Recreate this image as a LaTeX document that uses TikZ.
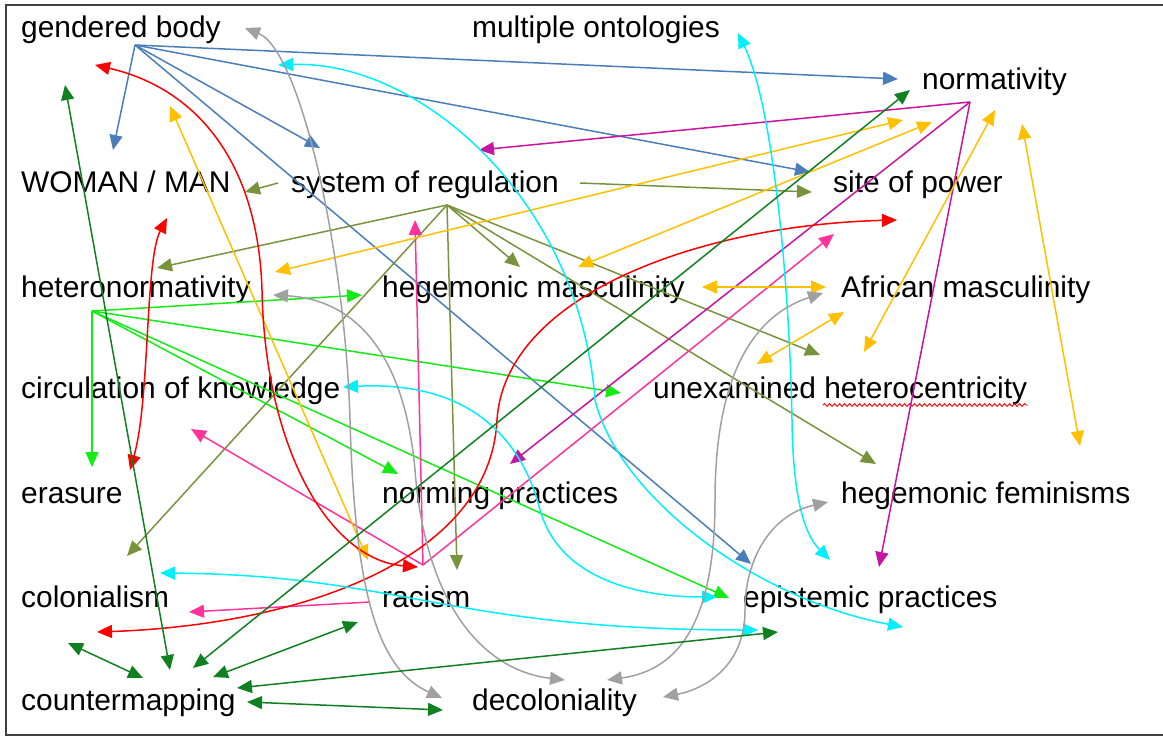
\documentclass[tikz,border=0pt]{standalone}
\usepackage{fontspec}
\setmainfont{Liberation Sans}
\usetikzlibrary{arrows.meta, decorations.pathmorphing}
\definecolor{linkblue}{RGB}{74,126,187}
\definecolor{linkolive}{RGB}{119,147,60}
\definecolor{linklime}{RGB}{20,235,20}
\definecolor{linkmagenta}{RGB}{200,20,160}
\definecolor{linkpink}{RGB}{255,51,153}
\definecolor{linkyellow}{RGB}{255,192,0}
\definecolor{linkred}{RGB}{255,0,0}
\definecolor{linkcyan}{RGB}{0,240,255}
\definecolor{linkgray}{RGB}{160,160,160}
\definecolor{linkgreen}{RGB}{16,128,32}

\tikzset{
  concept/.style={anchor=base west, inner sep=0pt, font=\fontsize{29.9}{36}\selectfont},
  link/.style={line width=1.5pt, -{Triangle[length=15pt,width=13pt]}},
  twoway/.style={line width=1.5pt, {Triangle[length=15pt,width=13pt]}-{Triangle[length=15pt,width=13pt]}},
}

\begin{document}
\begin{tikzpicture}[x=1pt, y=-1pt]
\useasboundingbox (0,0) rectangle (1163,736);
\draw[line width=1.5pt, black!75] (1163,5) -- (6,5) -- (6,735) -- (1163,735);

% concepts
\node[concept] (gendbody)   at (21,37)   {gendered body};
\node[concept] (multonto)   at (472,37)  {multiple ontologies};
\node[concept] (normat)     at (922,89)  {normativity};
\node[concept] (womanman)   at (21,192)  {WOMAN / MAN};
\node[concept] (sysreg)     at (291,192) {system of regulation};
\node[concept] (sitepower)  at (833,192) {site of power};
\node[concept] (heteronorm) at (21,297)  {heteronormativity};
\node[concept] (hegmasc)    at (382,297) {hegemonic masculinity};
\node[concept] (afrmasc)    at (841,297) {African masculinity};
\node[concept] (circknow)   at (21,398)  {circulation of knowledge};
\node[concept] (unexam)     at (653,398) {unexamined heterocentricity};
\node[concept] (erasure)    at (21,503)  {erasure};
\node[concept] (normprac)   at (382,503) {norming practices};
\node[concept] (hegfem)     at (841,503) {hegemonic feminisms};
\node[concept] (colon)      at (21,607)  {colonialism};
\node[concept] (racism)     at (382,607) {racism};
\node[concept] (epiprac)    at (743,607) {epistemic practices};
\node[concept] (countermap) at (21,710)  {countermapping};
\node[concept] (decol)      at (472,710) {decoloniality};

% spell-check squiggle
\draw[linkred, line width=0.9pt, decorate, decoration={snake, amplitude=1.4pt, segment length=5pt}]
  (823,405) -- (1028,405);

% hubs and loose ends
\coordinate (hubGB) at (135,45);
\coordinate (hubSR) at (447,205);
\coordinate (hubHN) at (92,311);
\coordinate (hubNO) at (970,102);
\coordinate (hubRA) at (423,565);

\coordinate (bWM) at (113,150);  \coordinate (bSR) at (320,148);
\coordinate (bNO) at (898,79);   \coordinate (bSP) at (810,172);
\coordinate (bEP) at (751,564);

\coordinate (oHN) at (157,268);  \coordinate (oHM) at (520,267);
\coordinate (oRA) at (457,570);  \coordinate (oCO) at (127,556);
\coordinate (oUH) at (820,355);  \coordinate (oHF) at (876,464);
\coordinate (oSRl) at (278,183); \coordinate (oWM) at (245,192);
\coordinate (oSRr) at (580,183); \coordinate (oSP) at (812,192);

\coordinate (lER) at (92,467);   \coordinate (lHM) at (362,295);
\coordinate (lUH) at (621,393);  \coordinate (lNP) at (398,474);
\coordinate (lEP) at (729,598);

\coordinate (mSR) at (479,150);  \coordinate (mNP) at (510,464);
\coordinate (mEP) at (879,567);

\coordinate (pUp) at (415,220);  \coordinate (pSP) at (834,234);
\coordinate (pCK) at (191,429);  \coordinate (pRA) at (370,602);
\coordinate (pCO) at (189,612);

% blue
\draw[link, linkblue] (hubGB) -- (bWM);
\draw[link, linkblue] (hubGB) -- (bSR);
\draw[link, linkblue] (hubGB) -- (bNO);
\draw[link, linkblue] (hubGB) -- (bSP);
\draw[link, linkblue] (hubGB) -- (bEP);

% olive
\draw[link, linkolive] (hubSR) -- (oHN);
\draw[link, linkolive] (hubSR) -- (oHM);
\draw[link, linkolive] (hubSR) -- (oRA);
\draw[link, linkolive] (hubSR) -- (oCO);
\draw[link, linkolive] (hubSR) -- (oUH);
\draw[link, linkolive] (hubSR) -- (oHF);
\draw[link, linkolive] (oSRl) -- (oWM);
\draw[link, linkolive] (oSRr) -- (oSP);

% lime
\draw[link, linklime] (hubHN) -- (lER);
\draw[link, linklime] (hubHN) -- (lHM);
\draw[link, linklime] (hubHN) -- (lUH);
\draw[link, linklime] (hubHN) -- (lNP);
\draw[link, linklime] (hubHN) -- (lEP);

% magenta
\draw[link, linkmagenta] (hubNO) -- (mSR);
\draw[link, linkmagenta] (hubNO) -- (mNP);
\draw[link, linkmagenta] (hubNO) -- (mEP);

% pink
\draw[link, linkpink] (hubRA) -- (pUp);
\draw[link, linkpink] (hubRA) -- (pSP);
\draw[link, linkpink] (hubRA) -- (pCK);
\draw[link, linkpink] (pRA) -- (pCO);

% yellow
\coordinate (yGB) at (170,106);  \coordinate (yRA) at (368,560);
\coordinate (yHN) at (275,272);  \coordinate (yNOa) at (903,120);
\coordinate (yHM) at (578,267);  \coordinate (yNOb) at (932,122);
\coordinate (yNOc) at (995,110); \coordinate (yUH) at (864,352);
\coordinate (yNOd) at (1022,124); \coordinate (yHF) at (1080,446);
\coordinate (yHMr) at (702,287); \coordinate (yAM) at (826,287);
\coordinate (yUHr) at (757,364); \coordinate (yAMb) at (844,312);
\draw[twoway, linkyellow] (yGB) -- (yRA);
\draw[twoway, linkyellow] (yHN) -- (yNOa);
\draw[twoway, linkyellow] (yHM) -- (yNOb);
\draw[twoway, linkyellow] (yNOc) -- (yUH);
\draw[twoway, linkyellow] (yNOd) -- (yHF);
\draw[twoway, linkyellow] (yHMr) -- (yAM);
\draw[twoway, linkyellow] (yUHr) -- (yAMb);

% red
\coordinate (rGB) at (95,65);    \coordinate (rRA) at (418,567);
\coordinate (rWM) at (167,218);  \coordinate (rER) at (130,470);
\coordinate (rCO) at (97,632);   \coordinate (rSP) at (897,220);
\draw[twoway, linkred] (rGB) .. controls (195,88) and (258,160) .. (262,290)
  .. controls (265,450) and (330,560) .. (rRA);
\draw[twoway, linkred] (rWM) .. controls (145,260) and (150,400) .. (rER);
\draw[twoway, linkred] (rCO) .. controls (300,625) and (490,560) .. (497,420)
  .. controls (505,295) and (700,225) .. (rSP);

% cyan
\coordinate (cMO) at (738,33);   \coordinate (cEPa) at (830,560);
\coordinate (cGB) at (278,65);   \coordinate (cEPb) at (903,627);
\coordinate (cCK) at (343,387);  \coordinate (cEPc) at (717,597);
\coordinate (cCO) at (160,573);  \coordinate (cEPd) at (758,630);
\draw[twoway, linkcyan] (cMO) .. controls (775,110) and (790,300) .. (792,420)
  .. controls (793,500) and (805,535) .. (cEPa);
\draw[twoway, linkcyan] (cGB) .. controls (420,60) and (580,200) .. (595,400)
  .. controls (620,500) and (760,600) .. (cEPb);
\draw[twoway, linkcyan] (cCK) .. controls (480,380) and (525,450) .. (540,510)
  .. controls (560,580) and (640,597) .. (cEPc);
\draw[twoway, linkcyan] (cCO) .. controls (400,575) and (450,630) .. (cEPd);

% gray
\coordinate (gGB) at (245,28);   \coordinate (gDEa) at (442,698);
\coordinate (gHN) at (273,295);  \coordinate (gDEb) at (565,680);
\coordinate (gAM) at (823,293);  \coordinate (gDEc) at (607,680);
\coordinate (gHF) at (828,502);  \coordinate (gDEd) at (663,697);
\draw[twoway, linkgray] (gGB) .. controls (300,50) and (345,250) .. (350,420)
  .. controls (355,600) and (380,670) .. (gDEa);
\draw[twoway, linkgray] (gHN) .. controls (360,300) and (405,360) .. (415,470)
  .. controls (425,600) and (480,670) .. (gDEb);
\draw[twoway, linkgray] (gAM) .. controls (740,320) and (715,400) .. (715,500)
  .. controls (715,620) and (680,670) .. (gDEc);
\draw[twoway, linkgray] (gHF) .. controls (770,515) and (745,560) .. (745,610)
  .. controls (745,670) and (700,690) .. (gDEd);

% dark green
\coordinate (dTop) at (65,85);   \coordinate (dCMa) at (170,670);
\coordinate (dNO) at (910,90);   \coordinate (dCMb) at (193,668);
\coordinate (dCO) at (68,643);   \coordinate (dCMc) at (143,678);
\coordinate (dRA) at (358,622);  \coordinate (dCMd) at (213,677);
\coordinate (dEP) at (778,632);  \coordinate (dCMe) at (237,688);
\coordinate (dDE) at (443,710);  \coordinate (dCMf) at (247,702);
\draw[twoway, linkgreen] (dTop) -- (dCMa);
\draw[twoway, linkgreen] (dNO) -- (dCMb);
\draw[twoway, linkgreen] (dCO) -- (dCMc);
\draw[twoway, linkgreen] (dRA) -- (dCMd);
\draw[twoway, linkgreen] (dEP) -- (dCMe);
\draw[twoway, linkgreen] (dDE) -- (dCMf);
\end{tikzpicture}
\end{document}
